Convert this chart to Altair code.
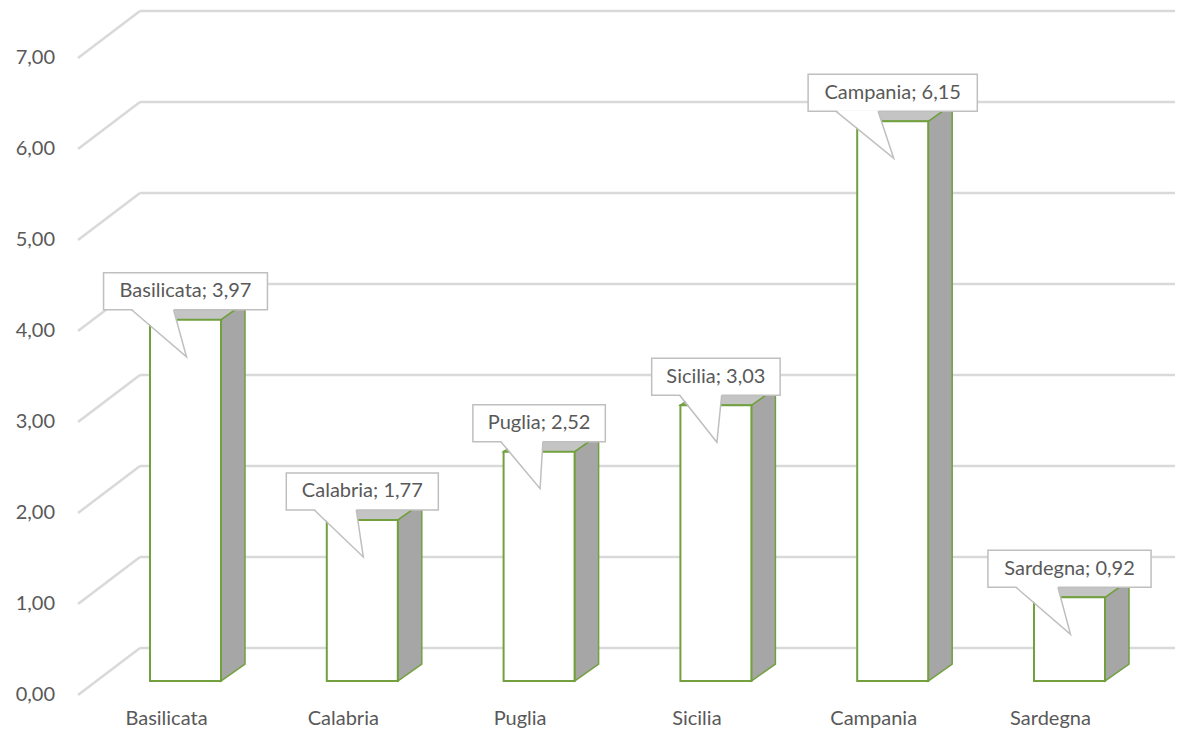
import altair as alt
import pandas as pd

# ---------------- data ----------------
categories = ["Basilicata", "Calabria", "Puglia", "Sicilia", "Campania", "Sardegna"]
values = [3.97, 1.77, 2.52, 3.03, 6.15, 0.92]
y_ticks = [0, 1, 2, 3, 4, 5, 6, 7]

# ---------------- geometry / style ----------------
W, H = 1167, 722
X0, XSTEP = 177.5, 176.8      # plot px of first bar centre, px per category step
Y0, YUNIT = 673.0, 91.0       # plot px of value 0 (bar plane), px per unit
PX = 1.0 / XSTEP
PY = 1.0 / YUNIT
HALF = 35.5 * PX              # half bar width
DX = 24 * PX                  # 3-D depth offset
DY = 17 * PY

GREEN = "#72a03e"
SIDE = "#a6a6a6"
TOP = "#c4c4c4"
GRID = "#d9d9d9"
TXT = "#595959"
BOXSTROKE = "#bfbfbf"
FONT = "Lato"

xs = alt.Scale(domain=[0, 5], range=[X0, X0 + 5 * XSTEP])
ys = alt.Scale(domain=[0, 7], range=[Y0, Y0 - 7 * YUNIT])

# approximate glyph advance widths (em) for sizing the callout boxes
EM = {"a": .479, "b": .525, "c": .423, "d": .525, "e": .498, "g": .471, "i": .229,
      "l": .229, "m": .799, "n": .525, "p": .525, "r": .349, "s": .391, "t": .335,
      "u": .525, "B": .544, "C": .533, "P": .517, "S": .459, ";": .268, ",": .25,
      " ": .226}


def text_w(s):
    return sum(EM.get(ch, .507) for ch in s) * 23


def fmt(v):
    return f"{v:.2f}".replace(".", ",")


def X(f):
    return alt.X(f, scale=xs, axis=None, stack=None)


def Y(f):
    return alt.Y(f, scale=ys, axis=None, stack=None)


# ---------------- tables derived from the arrays ----------------
grid = pd.DataFrame({"v": y_ticks, "lab": [fmt(t) for t in y_ticks]})

bars = pd.DataFrame({"cat": categories, "v": values, "i": list(range(len(values)))})
bars["xl"] = bars.i - HALF
bars["xr"] = bars.i + HALF
bars["z"] = 0.0

side_rows, top_rows, box_rows, tri_rows, line_rows = [], [], [], [], []
for i, (c, v) in enumerate(zip(categories, values)):
    side_rows += [dict(cat=c, x=i + HALF, y=v, y2=0.0),
                  dict(cat=c, x=i + HALF + DX, y=v + DY, y2=DY)]
    top_rows += [dict(cat=c, y=v, xa=i - HALF, xb=i + HALF),
                 dict(cat=c, y=v + DY, xa=i - HALF + DX, xb=i + HALF + DX)]
    label = f"{c}; {fmt(v)}"
    w = text_w(label) + 24
    bl, br = i - w / 2 * PX, i + w / 2 * PX
    bb, bt = v + 10 * PY, v + 47 * PY
    box_rows.append(dict(cat=c, bl=bl, br=br, bb=bb, bt=bt, tx=i, ty=v + 28.5 * PY, label=label))
    ax, bx = bl + 28 * PX, bl + 70 * PX
    tipx, tipy = i + 1 * PX, v - 37 * PY
    tri_rows += [dict(cat=c, y=bb + 1.2 * PY, xa=ax, xb=bx),
                 dict(cat=c, y=tipy, xa=tipx, xb=tipx)]
    line_rows += [dict(cat=c, o=0, x=ax, y=bb), dict(cat=c, o=1, x=tipx, y=tipy),
                  dict(cat=c, o=2, x=bx, y=bb)]

side = pd.DataFrame(side_rows)
top = pd.DataFrame(top_rows)
boxes = pd.DataFrame(box_rows)
tri = pd.DataFrame(tri_rows)
tline = pd.DataFrame(line_rows)

# ---------------- layers ----------------
back_grid = alt.Chart(grid).mark_rule(color=GRID, strokeWidth=2.5, yOffset=-33).encode(
    y=Y("v:Q"), x=alt.value(132), x2=alt.value(W))

diag_grid = alt.Chart(grid).mark_rule(color=GRID, strokeWidth=2.5, yOffset=14, y2Offset=-33).encode(
    y=Y("v:Q"), y2=alt.Y2("v"), x=alt.value(70), x2=alt.value(132))

side_face = alt.Chart(side).mark_area(orient="vertical", fill=SIDE, stroke=GREEN,
                                      strokeWidth=1.5, opacity=1).encode(
    x=X("x:Q"), y=Y("y:Q"), y2=alt.Y2("y2"), detail="cat:N")

top_face = alt.Chart(top).mark_area(orient="horizontal", fill=TOP, stroke=GREEN,
                                    strokeWidth=1.5, opacity=1).encode(
    y=Y("y:Q"), x=X("xa:Q"), x2=alt.X2("xb"), detail="cat:N")

front_face = alt.Chart(bars).mark_rect(fill="white", stroke=GREEN, strokeWidth=2).encode(
    x=X("xl:Q"), x2=alt.X2("xr"), y=Y("v:Q"), y2=alt.Y2("z"))

box = alt.Chart(boxes).mark_rect(fill="white", stroke=BOXSTROKE, strokeWidth=1.5).encode(
    x=X("bl:Q"), x2=alt.X2("br"), y=Y("bb:Q"), y2=alt.Y2("bt"))

tri_fill = alt.Chart(tri).mark_area(orient="horizontal", fill="white", opacity=1).encode(
    y=Y("y:Q"), x=X("xa:Q"), x2=alt.X2("xb"), detail="cat:N")

tri_line = alt.Chart(tline).mark_line(color=BOXSTROKE, strokeWidth=1.5).encode(
    x=X("x:Q"), y=Y("y:Q"), detail="cat:N", order="o:Q")

box_text = alt.Chart(boxes).mark_text(font=FONT, fontSize=20, color=TXT,
                                      align="center", baseline="middle").encode(
    x=X("tx:Q"), y=Y("ty:Q"), text="label:N")

y_labels = alt.Chart(grid).mark_text(font=FONT, fontSize=20, color=TXT, align="right",
                                     baseline="middle", yOffset=14).encode(
    x=alt.value(47), y=Y("v:Q"), text="lab:N")

x_labels = alt.Chart(bars).mark_text(font=FONT, fontSize=20, color=TXT, align="center",
                                     baseline="middle", xOffset=-19).encode(
    x=X("i:Q"), y=alt.value(711), text="cat:N")

chart = alt.layer(
    back_grid, diag_grid, side_face, top_face, front_face,
    box, tri_fill, tri_line, box_text, y_labels, x_labels
).properties(
    width=W, height=H,
    autosize=alt.AutoSizeParams(type="none"),
    padding=0,
    background="white",
).configure_view(stroke=None)

chart.save("out.html", embed_options={"renderer": "svg", "actions": False})
